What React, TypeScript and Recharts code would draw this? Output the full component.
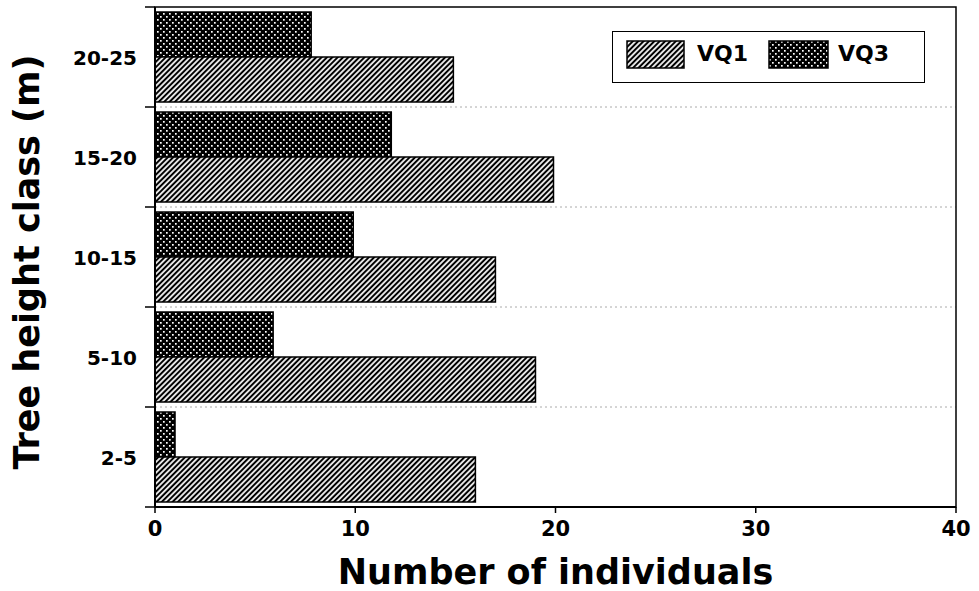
import React from 'react';
import { BarChart, Bar, XAxis, YAxis, CartesianGrid, Label, ReferenceArea } from 'recharts';

const heightClasses = ['20-25', '15-20', '10-15', '5-10', '2-5'];
const vq1Counts = [14.9, 19.9, 17, 19, 16];
const vq3Counts = [7.8, 11.8, 9.9, 5.9, 1];
const xTicks = [0, 10, 20, 30, 40];

const data = heightClasses.map((cls, i) => ({ cls, VQ1: vq1Counts[i], VQ3: vq3Counts[i] }));

const FONT = '"DejaVu Sans", sans-serif';

// category label + tick marks on the band edges
const ClassTick = (props) => {
    const { x, y, payload, index, visibleTicksCount } = props;
    const axisX = x + 18;
    const half = payload && payload.offset ? payload.offset : 50.1;
    return (
        <g>
            <line x1={axisX - 10} x2={axisX} y1={y - half} y2={y - half} stroke="#000" strokeWidth={1.5} />
            {index === visibleTicksCount - 1 && (
                <line x1={axisX - 10} x2={axisX} y1={y + half} y2={y + half} stroke="#000" strokeWidth={1.5} />
            )}
            <text x={x} y={y} dy={8} textAnchor="end" fontFamily={FONT} fontWeight="bold" fontSize={20} fill="#000">
                {payload.value}
            </text>
        </g>
    );
};

const LegendBox = () => (
    <div style={{ position: 'absolute', left: 612, top: 31, width: 311, height: 50, border: '1.5px solid #000', background: '#fff', fontFamily: FONT, fontWeight: 'bold', fontSize: 22 }}>
        <svg width={60} height={30} style={{ position: 'absolute', left: 13, top: 8 }}>
            <rect x={1} y={1} width={57} height={27} fill="url(#hatchVQ1)" stroke="#000" strokeWidth={1.5} />
        </svg>
        <span style={{ position: 'absolute', left: 84, top: 9 }}>VQ1</span>
        <svg width={62} height={30} style={{ position: 'absolute', left: 155, top: 8 }}>
            <rect x={1} y={1} width={59} height={27} fill="url(#dotsVQ3)" stroke="#000" strokeWidth={1.5} />
        </svg>
        <span style={{ position: 'absolute', left: 225, top: 9 }}>VQ3</span>
    </div>
);

export default function App() {
    return (
        <div style={{ position: 'absolute', left: 0, top: 0, width: 979, height: 591, background: '#fff' }}>
            <BarChart
                width={979}
                height={591}
                data={data}
                layout="vertical"
                margin={{ top: 7, right: 23, bottom: 0, left: 0 }}
                barCategoryGap="5%"
                barGap={0}
            >
                <defs>
                    <pattern id="hatchVQ1" patternUnits="userSpaceOnUse" width={3.8} height={3.8} patternTransform="rotate(45)">
                        <rect width={3.8} height={3.8} fill="#fff" />
                        <line x1={1.9} y1={0} x2={1.9} y2={3.8} stroke="#000" strokeWidth={2.1} />
                    </pattern>
                    <pattern id="dotsVQ3" patternUnits="userSpaceOnUse" width={6} height={6}>
                        <rect width={6} height={6} fill="#000" />
                        <rect x={1} y={1} width={1.7} height={1.7} fill="#fff" />
                        <rect x={4} y={4} width={1.7} height={1.7} fill="#fff" />
                    </pattern>
                </defs>
                <CartesianGrid
                    vertical={false}
                    stroke="#aaa"
                    strokeDasharray="2 3"
                    horizontalCoordinatesGenerator={({ offset }) =>
                        heightClasses.slice(1).map((_, i) => offset.top + (offset.height * (i + 1)) / heightClasses.length)
                    }
                />
                <XAxis
                    type="number"
                    domain={[0, 40]}
                    ticks={xTicks}
                    height={84}
                    tickSize={6}
                    tickMargin={8}
                    axisLine={{ stroke: '#000', strokeWidth: 2 }}
                    tickLine={{ stroke: '#000', strokeWidth: 1.5 }}
                    tick={{ fill: '#000', fontFamily: FONT, fontWeight: 'bold', fontSize: 21 }}
                >
                    <Label
                        content={({ viewBox }) => (
                            <text x={viewBox.x + viewBox.width / 2} y={584} textAnchor="middle" fill="#000" fontFamily={FONT} fontWeight="bold" fontSize={35}>
                                Number of individuals
                            </text>
                        )}
                    />
                </XAxis>
                <YAxis
                    type="category"
                    dataKey="cls"
                    width={155}
                    tickSize={10}
                    tickMargin={8}
                    tickLine={false}
                    axisLine={{ stroke: '#000', strokeWidth: 2 }}
                    tick={<ClassTick />}
                >
                    <Label
                        content={() => (
                            <text x={27} y={262} transform="rotate(-90, 27, 262)" textAnchor="middle" dominantBaseline="central" fill="#000" fontFamily={FONT} fontWeight="bold" fontSize={35}>
                                Tree height class (m)
                            </text>
                        )}
                    />
                </YAxis>
                <ReferenceArea x1={0} x2={40} fill="none" stroke="#000" strokeWidth={1.5} ifOverflow="visible" />
                <Bar dataKey="VQ3" fill="url(#dotsVQ3)" stroke="#000" strokeWidth={1.5} isAnimationActive={false} />
                <Bar dataKey="VQ1" fill="url(#hatchVQ1)" stroke="#000" strokeWidth={1.5} isAnimationActive={false} />
            </BarChart>
            <LegendBox />
        </div>
    );
}
